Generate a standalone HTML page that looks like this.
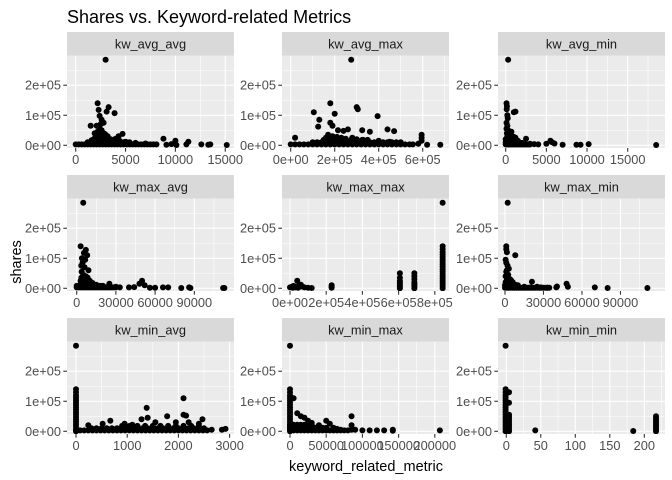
<!DOCTYPE html>
<html><head><meta charset="utf-8"><style>
body{margin:0;background:#fff}
svg{display:block;font-family:"Liberation Sans",Arial,sans-serif}
</style></head><body>
<svg id="chart" width="672" height="480" viewBox="0 0 672 480" xmlns="http://www.w3.org/2000/svg">
<rect width="672" height="480" fill="#fff"/>
<text x="67" y="23" font-size="18" fill="#000">Shares vs. Keyword-related Metrics</text>
<text x="366" y="471" font-size="14.5" fill="#000" text-anchor="middle">keyword_related_metric</text>
<text transform="translate(21,262) rotate(-90)" font-size="14.5" fill="#000" text-anchor="middle">shares</text>
<g id="panels"></g>
</svg>
<script>
// shared y ticks (shares)
const yTickValues=[0,100000,200000];
const yTickLabels=["0e+00","1e+05","2e+05"];
// facet names
const facetNames=["kw_avg_avg","kw_avg_max","kw_avg_min","kw_max_avg","kw_max_max","kw_max_min","kw_min_avg","kw_min_max","kw_min_min"];
// x tick values / labels per facet
const xTicksAvgAvg=[0,5000,10000,15000];
const xTicksAvgMax=[0,200000,400000,600000];
const xTicksAvgMin=[0,5000,10000,15000];
const xTicksMaxAvg=[0,30000,60000,90000];
const xTicksMaxMax=[0,200000,400000,600000,800000];
const xTicksMaxMin=[0,30000,60000,90000];
const xTicksMinAvg=[0,1000,2000,3000];
const xTicksMinMax=[0,50000,100000,150000,200000];
const xTicksMinMin=[0,50,100,150,200];
const xLabelsAvgAvg=["0","5000","10000","15000"];
const xLabelsAvgMax=["0e+00","2e+05","4e+05","6e+05"];
const xLabelsAvgMin=["0","5000","10000","15000"];
const xLabelsMaxAvg=["0","30000","60000","90000"];
const xLabelsMaxMax=["0e+00","2e+05","4e+05","6e+05","8e+05"];
const xLabelsMaxMin=["0","30000","60000","90000"];
const xLabelsMinAvg=["0","1000","2000","3000"];
const xLabelsMinMax=["0","50000","100000","150000","200000"];
const xLabelsMinMin=["0","50","100","150","200"];
// data: x values and shares (in thousands)
const avgAvgX=[0,300,600,900,1200,1500,1800,2100,2400,2700,3000,3300,3600,3900,4200,4500,4800,5100,5400,5700,6000,6300,6600,6900,7200,7500,7800,8100,1200,1500,1800,2100,2400,2700,3000,3300,3600,3900,4200,4500,4800,5100,5400,1800,2000,2200,2400,2600,2800,3000,3200,2100,2500,2300,1900,2700,3500,4000,4400,5000,6000,7000,3000,2200,2300,3300,3100,3900,2400,1500,2600,2800,8800,10000,11300,12600,13500,15150,9100,9600,10100,11100,13300,4700,4300,1600,1800,2000,2200,2400,2600,2800,3000,3200,3400,3600,3800,2000,2200,2400,2600,2800,3000,3200,2100,2300,2500,2700,2900];
const avgAvgY=[3,3,3,3,3,3,3,3,3,3,3,3,3,3,3,3,3,3,3,3,3,3,3,3,3,3,3,3,10,10,10,10,10,10,10,10,10,10,10,10,10,10,10,20,30,45,55,50,40,35,30,65,70,25,40,28,20,22,15,12,8,6,285,140,118,127,112,107,98,65,85,75,22,15,12,3,3,1,2,4,1,3,2,38,30,17,17,17,17,17,17,17,17,17,17,17,17,28,28,28,28,28,28,28,38,38,38,38,38];
const avgMaxX=[0,20000,40000,60000,80000,100000,120000,140000,160000,180000,200000,220000,240000,260000,280000,300000,320000,340000,360000,380000,400000,420000,440000,460000,480000,500000,520000,100000,120000,140000,160000,180000,200000,220000,240000,260000,280000,300000,320000,340000,360000,380000,400000,420000,440000,460000,480000,150000,175000,200000,225000,250000,275000,300000,325000,350000,275000,180000,105000,200000,300000,305000,395000,130000,440000,470000,125000,180000,190000,215000,260000,240000,325000,360000,20000,595000,595000,595000,580000,620000,680000,555000,540000,170000,190000,210000,230000,160000,250000,280000,300000,330000,400000,450000,500000];
const avgMaxY=[3,3,3,3,3,3,3,3,3,3,3,3,3,3,3,3,3,3,3,3,3,3,3,3,3,3,3,10,10,10,10,10,10,10,10,10,10,10,10,10,10,10,10,10,10,10,10,18,18,18,18,18,18,18,18,18,285,140,110,105,127,120,97,85,53,47,62,75,65,50,53,48,50,45,25,35,25,15,5,2,2,3,3,35,30,28,25,25,22,25,20,18,15,12,10];
const avgMinX=[0,150,300,450,600,750,900,1050,1200,1350,1500,1650,1800,1950,2100,2250,2400,2550,2700,2850,3000,0,150,300,450,600,750,900,1050,1200,1350,1500,0,150,300,450,600,750,300,100,150,120,200,250,100,200,100,300,150,400,200,500,1000,1200,700,800,1000,1200,1500,2000,2500,3000,3500,4000,5000,5500,5700,6000,7000,8700,9200,10200,18500];
const avgMinY=[3,3,3,3,3,3,3,3,3,3,3,3,3,3,3,3,3,3,3,3,3,10,10,10,10,10,10,10,10,10,10,10,20,20,20,20,20,20,285,140,130,120,100,90,75,65,55,50,40,35,30,25,110,112,45,30,28,25,15,8,22,5,4,3,5,15,10,6,2,2,2,4,1];
const maxAvgX=[0,1500,3000,4500,6000,7500,9000,10500,12000,13500,15000,16500,18000,19500,21000,22500,24000,25500,27000,28500,30000,0,2000,4000,6000,8000,10000,12000,14000,16000,18000,20000,3000,3600,4200,4800,5400,6000,6600,7200,7800,8400,9000,3000,3600,4200,4800,5400,6000,6600,7200,7800,8400,3600,4800,6000,7200,8400,5000,3000,5500,7000,8000,4000,6500,9000,3500,4500,6000,3800,5000,7000,8000,10000,12000,15000,20000,25000,24000,30000,33000,40000,44000,48000,50000,52000,56000,60000,66000,70000,80000,86000,87000,112000,113000];
const maxAvgY=[3,3,3,3,3,3,3,3,3,3,3,3,3,3,3,3,3,3,3,3,3,8,8,8,8,8,8,8,8,8,8,8,15,15,15,15,15,15,15,15,15,15,15,25,25,25,25,25,25,25,25,25,25,35,35,35,35,35,285,140,118,128,110,100,95,60,75,85,70,55,45,40,35,25,18,12,8,15,5,5,3,3,4,15,25,10,2,2,3,3,1,3,1,1,1];
const maxMaxX=[0,10000,20000,30000,40000,50000,60000,70000,80000,100000,15000,45000,120000,230000,230000,230000,607000,607000,607000,607000,607000,607000,607000,607000,687000,687000,687000,687000,687000,687000,687000,687000,843300,843300,843300,843300,843300,843300,843300,843300,843300,843300,843300,843300,843300,843300,843300,843300,843300,843300,843300];
const maxMaxY=[3,5,8,3,25,10,12,5,3,2,2,2,1,2,5,10,0,5,10,15,20,25,35,50,0,5,10,15,20,30,40,50,0,8,16,24,32,40,48,56,64,72,80,88,96,104,112,120,130,140,285];
const maxMinX=[0,1500,3000,4500,6000,7500,9000,10500,12000,13500,15000,16500,18000,19500,21000,22500,24000,25500,27000,28500,30000,31500,33000,34500,0,1000,2000,3000,4000,5000,6000,7000,8000,9000,10000,2100,1000,1000,1500,500,8000,1000,2000,3000,1000,2500,4000,5000,6000,8000,10000,15000,20000,21000,25000,28000,33000,40000,40500,48000,49000,70000,80000,111000,500,1500,500,1500];
const maxMinY=[2,2,2,2,2,2,2,2,2,2,2,2,2,2,2,2,2,2,2,2,2,2,2,2,10,10,10,10,10,10,10,10,10,10,10,285,140,130,120,95,110,85,75,65,55,45,30,25,20,12,8,5,3,22,5,3,2,3,6,15,5,3,1,1,20,30,40,60];
const minAvgX=[0,80,160,240,320,400,480,560,640,720,800,880,960,1040,1120,1200,1280,1360,1440,1520,1600,1680,1760,1840,1920,2000,2080,2160,2240,2320,2400,2480,2560,300,400,500,600,700,800,900,1000,1100,1200,1300,1400,1500,1600,1700,1800,1900,2000,2100,2200,2300,2400,2500,900,1050,1200,1350,1500,1650,1800,1950,2100,2250,2400,0,0,0,0,0,0,0,0,0,0,0,0,0,0,0,0,0,0,0,240,520,670,950,1100,1280,1380,1400,1550,1780,1950,2100,2100,2150,2200,2470,2400,2650,2850,2920];
const minAvgY=[3,3,3,3,3,3,3,3,3,3,3,3,3,3,3,3,3,3,3,3,3,3,3,3,3,3,3,3,3,3,3,3,3,10,10,10,10,10,10,10,10,10,10,10,10,10,10,10,10,10,10,10,10,10,10,10,18,18,18,18,18,18,18,18,18,18,18,0,8,16,24,32,40,48,56,64,72,80,88,96,104,112,120,130,140,285,20,25,35,25,22,40,78,45,30,50,30,110,55,52,30,40,25,5,5,8];
const minMaxX=[0,5000,10000,15000,20000,25000,30000,35000,40000,45000,50000,55000,60000,65000,70000,75000,80000,0,5000,10000,15000,20000,25000,30000,35000,40000,45000,50000,0,5000,10000,15000,20000,25000,30000,0,0,0,0,0,0,0,0,0,0,0,0,0,0,0,0,0,0,0,5000,10000,15000,20000,25000,30000,40000,50000,55000,60000,65000,70000,85000,85000,85000,90000,100000,110000,120000,130000,142000,142000,207000];
const minMaxY=[3,3,3,3,3,3,3,3,3,3,3,3,3,3,3,3,3,12,12,12,12,12,12,12,12,12,12,12,22,22,22,22,22,22,22,0,8,16,24,32,40,48,56,64,72,80,88,96,104,112,120,130,140,285,110,60,50,45,35,28,20,35,25,12,8,5,50,20,5,5,3,3,3,3,5,2,3];
const minMinX=[-1,-1,-1,-1,-1,-1,-1,-1,-1,-1,-1,-1,-1,-1,-1,-1,-1,-1,-1,4,4,4,4,4,4,4,4,4,4,42,184,217,217,217,217,217,217,217,217,217];
const minMinY=[0,8,16,24,32,40,48,56,64,72,80,88,96,104,112,120,130,140,285,0,8,16,24,32,40,48,55,95,130,3,1,0,6,12,18,24,30,36,42,50];

const facetXs=[avgAvgX,avgMaxX,avgMinX,maxAvgX,maxMaxX,maxMinX,minAvgX,minMaxX,minMinX];
const facetYs=[avgAvgY,avgMaxY,avgMinY,maxAvgY,maxMaxY,maxMinY,minAvgY,minMaxY,minMinY];
const facetTicks=[xTicksAvgAvg,xTicksAvgMax,xTicksAvgMin,xTicksMaxAvg,xTicksMaxMax,xTicksMaxMin,xTicksMinAvg,xTicksMinMax,xTicksMinMin];
const facetLabels=[xLabelsAvgAvg,xLabelsAvgMax,xLabelsAvgMin,xLabelsMaxAvg,xLabelsMaxMax,xLabelsMaxMin,xLabelsMinAvg,xLabelsMinMax,xLabelsMinMin];
// scale domains (axis settings)
const xDomains=[[-873,15877],[-39500,719500],[-947,19587],[-7420,120350],[-44200,878400],[-5450,124700],[-176,3086],[-11050,219600],[-12,230]];
const yDomain=[-9000,299000];

const NS="http://www.w3.org/2000/svg";
const root=document.getElementById('panels');
const colX=[67,282,498], PW=167, stripTops=[32,175,318], SH=23.5, PH=92.5;
function mk(tag,attrs,parent){const e=document.createElementNS(NS,tag);for(const k in attrs)e.setAttribute(k,attrs[k]);parent.appendChild(e);return e;}

facetNames.forEach((name,i)=>{
  const px=colX[i%3], st=stripTops[Math.floor(i/3)], py=st+SH;
  const [x0,x1]=xDomains[i];
  const xs=v=>px+(v-x0)/(x1-x0)*PW;
  const ys=v=>py+PH-(v-yDomain[0])/(yDomain[1]-yDomain[0])*PH;
  const g=mk('g',{},root);
  
  
  const strip=mk('rect',{x:px,y:st,width:PW,height:SH,fill:'#D9D9D9'},g);
  
  
  const stxt=mk('text',{x:px+PW/2,y:st+16.5,'font-size':12.8,fill:'#1A1A1A','text-anchor':'middle'},g);
  stxt.textContent=name;
  
  
  const bg=mk('rect',{x:px,y:py,width:PW,height:PH,fill:'#EBEBEB'},g);
  
  
  const clip=mk('clipPath',{id:'c'+i},g);
  mk('rect',{x:px,y:py,width:PW,height:PH},clip);
  const grid=mk('g',{'clip-path':'url(#c'+i+')'},g);
  
  
  const yt=yTickValues, step=yt[1]-yt[0];
  for(let k=-1;k<yt.length;k++){const v=yt[0]+(k+0.5)*step;const y=ys(v);if(y>py&&y<py+PH)mk('line',{x1:px,x2:px+PW,y1:y,y2:y,stroke:'#fff','stroke-width':0.55},grid);}
  const xt=facetTicks[i], xstep=xt[1]-xt[0];
  for(let k=-1;k<xt.length;k++){const v=xt[0]+(k+0.5)*xstep;const x=xs(v);if(x>px&&x<px+PW)mk('line',{x1:x,x2:x,y1:py,y2:py+PH,stroke:'#fff','stroke-width':0.55},grid);}
  yt.forEach(v=>{const y=ys(v);mk('line',{x1:px,x2:px+PW,y1:y,y2:y,stroke:'#fff','stroke-width':1.1},grid);});
  xt.forEach(v=>{const x=xs(v);mk('line',{x1:x,x2:x,y1:py,y2:py+PH,stroke:'#fff','stroke-width':1.1},grid);});
  yt.forEach((v,k)=>{const y=ys(v);
    mk('line',{x1:px-3.7,x2:px,y1:y,y2:y,stroke:'#333','stroke-width':1.1},g);
    const t=mk('text',{x:px-6,y:y+4.5,'font-size':12.8,fill:'#4D4D4D','text-anchor':'end'},g);
    t.textContent=yTickLabels[k];
    
    
  });
  xt.forEach((v,k)=>{const x=xs(v);
    mk('line',{x1:x,x2:x,y1:py+PH,y2:py+PH+3.7,stroke:'#333','stroke-width':1.1},g);
    const t=mk('text',{x:x,y:py+PH+16,'font-size':12.8,fill:'#4D4D4D','text-anchor':'middle'},g);
    t.textContent=facetLabels[i][k];
    
    
  });
  const pts=mk('g',{'clip-path':'url(#c'+i+')'},g);
  
  
  const X=facetXs[i], Y=facetYs[i];
  X.forEach((v,k)=>{
    const c=mk('circle',{cx:xs(v),cy:ys(Y[k]*1000),r:3,fill:'#000'},pts);
    
    
  });
});
</script>
</body></html>
